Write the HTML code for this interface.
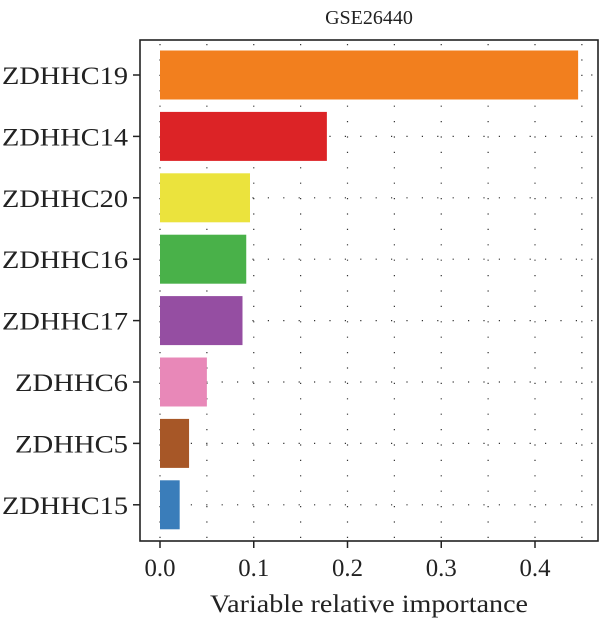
<!DOCTYPE html>
<html><head><style>
body{margin:0;background:#fff}
svg text{font-family:"Liberation Serif",serif;fill:#222}
</style></head><body>
<svg width="600" height="624">
<g id="g"></g>
</svg>
<script>
const genes=["ZDHHC19","ZDHHC14","ZDHHC20","ZDHHC16","ZDHHC17","ZDHHC6","ZDHHC5","ZDHHC15"];
const importance=[0.446,0.178,0.096,0.092,0.088,0.050,0.031,0.021];
const colors=["#f27f1e","#dc2326","#ebe33d","#49b149","#954ea2","#e888b8","#a75727","#3a7dba"];
const ticks=[0,0.1,0.2,0.3,0.4];
const tickLabels=["0.0","0.1","0.2","0.3","0.4"];
const ns="http://www.w3.org/2000/svg",g=document.getElementById('g');
const L=140,R=598,T=40,B=541;
const x=v=>160+v*937.5;
const y=i=>75+i*61.4;
function el(t,a,p){const e=document.createElementNS(ns,t);for(const k in a)e.setAttribute(k,a[k]);(p||g).appendChild(e);return e;}
for(let v=0;v<=0.45+1e-9;v+=0.05){const l=el('line',{x1:x(v),x2:x(v),y1:T+4,y2:B,stroke:'#333','stroke-width':1.2,'stroke-dasharray':'1.2 14.2'});

}
genes.forEach((n,i)=>{const l=el('line',{x1:L+20,x2:R,y1:y(i),y2:y(i),stroke:'#333','stroke-width':1.2,'stroke-dasharray':'1.2 14.2'});

});
genes.forEach((n,i)=>{const r=el('rect',{x:x(0),y:y(i)-24.5,width:x(importance[i])-x(0),height:49,fill:colors[i]});


const w=n.length===7?126:113;
const t=el('text',{x:128,y:y(i)+9,'text-anchor':'end','font-size':25,textLength:w,lengthAdjust:'spacingAndGlyphs'});t.textContent=n;


el('line',{x1:133,x2:L,y1:y(i),y2:y(i),stroke:'#222','stroke-width':1.5});});
const f=el('rect',{x:L,y:T,width:R-L,height:B-T,fill:'none',stroke:'#222','stroke-width':1.6});


ticks.forEach((v,i)=>{el('line',{x1:x(v),x2:x(v),y1:B,y2:B+7,stroke:'#222','stroke-width':1.5});
const t=el('text',{x:x(v),y:B+35,'text-anchor':'middle','font-size':25,textLength:31,lengthAdjust:'spacingAndGlyphs'});t.textContent=tickLabels[i];

});
const xt=el('text',{x:369,y:612,'text-anchor':'middle','font-size':25,textLength:318,lengthAdjust:'spacingAndGlyphs'});xt.textContent="Variable relative importance";


const tt=el('text',{x:369,y:24,'text-anchor':'middle','font-size':20});tt.textContent="GSE26440";


</script>
</body></html>
